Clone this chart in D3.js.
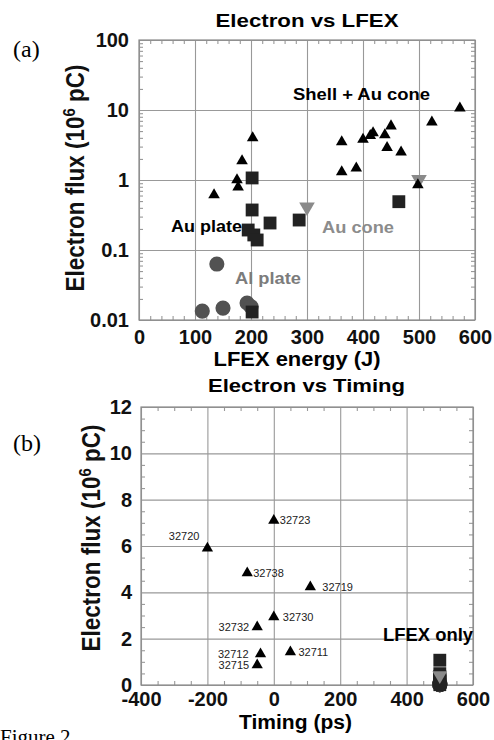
<!DOCTYPE html>
<html><head><meta charset="utf-8">
<script src="https://cdn.jsdelivr.net/npm/d3@7"></script>
<style>body{margin:0;background:#fff}svg{display:block}</style>
</head><body>
<script>
// ---------- Panel (a): Electron vs LFEX ----------
const shellEnergy = [134,184,175,177,203,362,400,418,413,439,450,443,468,523,573,362,388,498];
const shellFlux   = [0.61,1.87,1.0,0.79,3.98,3.5,3.8,4.7,4.3,4.4,5.9,2.9,2.5,6.7,10.6,1.3,1.48,0.85];
const auPlateEnergy = [202,202,234,286,195,205,211,464,202];
const auPlateFlux   = [1.07,0.373,0.243,0.268,0.193,0.164,0.139,0.49,0.013];
const auConeEnergy = [300,500];
const auConeFlux   = [0.41,1.02];
const alPlateEnergy = [139,113,150,193,200];
const alPlateFlux   = [0.063,0.0134,0.0148,0.0175,0.0155];
const aXTicks = [0,100,200,300,400,500,600];
const aXTickLabels = ["0","100","200","300","400","500","600"];
const aYTicks = [0.01,0.1,1,10,100];
const aYTickLabels = ["0.01","0.1","1","10","100"];

// ---------- Panel (b): Electron vs Timing ----------
const shotTiming = [-200,0,-80,110,0,-50,-40,-50,50];
const shotFlux   = [5.9,7.1,4.83,4.23,2.93,2.5,1.34,0.86,1.42];
const shotIds    = ["32720","32723","32738","32719","32730","32732","32712","32715","32711"];
const lfexOnlyTiming = 500;
const lfexOnlySquareFlux = [1.07,0.373,0.243,0.268,0.193,0.164,0.139,0.49,0.013];
const lfexOnlyConeFlux = [0.41];
const lfexOnlyCircleFlux = [0.063,0.0134,0.0148,0.0175,0.0155];
const bXTicks = [-400,-200,0,200,400,600];
const bXTickLabels = ["-400","-200","0","200","400","600"];
const bYTicks = [0,2,4,6,8,10,12];
const bYTickLabels = ["0","2","4","6","8","10","12"];

// label placement (layout only)
const shotLabelLayout = [
  {dx:-8,dy:-12,anchor:"end"},{dx:6,dy:0,anchor:"start"},{dx:6,dy:0,anchor:"start"},
  {dx:12,dy:0,anchor:"start"},{dx:9,dy:0,anchor:"start"},{dx:-8,dy:0,anchor:"end"},
  {dx:-12,dy:0,anchor:"end"},{dx:-8,dy:0,anchor:"end"},{dx:8,dy:0,anchor:"start"}];

const FONT = "'Liberation Sans', Arial, Helvetica, sans-serif";
const SERIF = "'Liberation Serif', 'Times New Roman', serif";
const GRID = "#999";

const svg = d3.select("body").append("svg").attr("width",494).attr("height",740);

function addText(str, x, y, o={}) {
  const t = svg.append("text").attr("x",x).attr("y",y)
    .attr("font-family", o.family||FONT).attr("font-size", o.size||18)
    .attr("font-weight", o.weight||"bold").attr("fill", o.fill||"#000")
    .attr("text-anchor", o.anchor||"start").text(str);
  if (o.len) t.attr("textLength", o.len).attr("lengthAdjust","spacingAndGlyphs");
  return t;
}

function styleAxis(g, keepText) {
  g.select(".domain").remove();
  g.selectAll("line").attr("stroke", GRID).attr("stroke-width", 1.1);
  if (!keepText) g.selectAll("text").remove();
  else g.selectAll("text").attr("font-family", FONT).attr("font-size", 20)
        .attr("font-weight","bold").attr("fill","#111");
}

function frame(x, y, minorX, minorY) {
  const [x0,x1] = x.range(), [y0,y1] = y.range();
  const w = x1-x0, h = y0-y1;
  svg.append("g").attr("transform",`translate(0,${y0})`)
    .call(d3.axisBottom(x).tickValues(minorX).tickSize(-4).tickFormat("")).call(g=>styleAxis(g,false));
  svg.append("g").attr("transform",`translate(0,${y1})`)
    .call(d3.axisTop(x).tickValues(minorX).tickSize(-4).tickFormat("")).call(g=>styleAxis(g,false));
  svg.append("g").attr("transform",`translate(${x0},0)`)
    .call(d3.axisLeft(y).tickValues(minorY).tickSize(-4).tickFormat("")).call(g=>styleAxis(g,false));
  svg.append("g").attr("transform",`translate(${x1},0)`)
    .call(d3.axisRight(y).tickValues(minorY).tickSize(-4).tickFormat("")).call(g=>styleAxis(g,false));
  svg.append("rect").attr("x",x0).attr("y",y1).attr("width",w).attr("height",h)
    .attr("fill","none").attr("stroke","#8a8a8a").attr("stroke-width",1.2);
}

const sym = (type, size) => d3.symbol().type(type).size(size)();

// ================= Panel (a) =================
const xA = d3.scaleLinear().domain([0,600]).range([139,475]);
const yA = d3.scaleLog().domain([0.01,100]).range([320,40]);

svg.append("g").attr("transform","translate(0,320)")
  .call(d3.axisBottom(xA).tickValues(aXTicks).tickFormat((d,i)=>aXTickLabels[i]).tickSize(-280))
  .call(g=>{styleAxis(g,true); g.selectAll("text").attr("y",17).attr("dy","0.36em");});
svg.append("g").attr("transform","translate(139,0)")
  .call(d3.axisLeft(yA).tickValues(aYTicks).tickFormat((d,i)=>aYTickLabels[i]).tickSize(-336).tickPadding(10))
  .call(g=>styleAxis(g,true));

const aMinorX = d3.range(0,601,20).filter(v=>v%100!==0);
const aMinorY = [];
[0.01,0.1,1,10].forEach(d=>{for(let k=2;k<=9;k++) aMinorY.push(d*k);});
frame(xA, yA, aMinorX, aMinorY);

svg.append("g").selectAll("path").data(alPlateEnergy).join("path")
  .attr("d", sym(d3.symbolCircle, 180)).attr("fill","#525252")
  .attr("transform",(d,i)=>`translate(${xA(d)},${yA(alPlateFlux[i])})`);
svg.append("g").selectAll("path").data(auPlateEnergy).join("path")
  .attr("d", sym(d3.symbolSquare, 165)).attr("fill","#222")
  .attr("transform",(d,i)=>`translate(${xA(d)},${yA(auPlateFlux[i])})`);
svg.append("g").selectAll("path").data(auConeEnergy).join("path")
  .attr("d", sym(d3.symbolTriangle, 105)).attr("fill","#8a8a8a")
  .attr("transform",(d,i)=>`translate(${xA(d)},${yA(auConeFlux[i])}) rotate(180)`);
svg.append("g").selectAll("path").data(shellEnergy).join("path")
  .attr("d", sym(d3.symbolTriangle, 58)).attr("fill","#000")
  .attr("transform",(d,i)=>`translate(${xA(d)},${yA(shellFlux[i])})`);

addText("Electron vs LFEX", 307, 27, {size:19, anchor:"middle", len:183});
addText("LFEX energy (J)", 297, 366, {size:20, anchor:"middle", len:167});
addText("Shell + Au cone", 293, 100, {size:17, len:137});
addText("Au plate", 171, 232, {size:17, len:71});
addText("Au cone", 322, 233, {size:17, len:72, fill:"#8c8c8c"});
addText("Al plate", 235, 284, {size:17, len:66, fill:"#7c7c7c"});
addText("(a)", 13, 57, {family:SERIF, weight:"normal", size:24});

function yLabel(cx, cy) {
  const t = svg.append("text").attr("transform",`translate(${cx},${cy}) scale(1.15,1) rotate(-90)`)
    .attr("text-anchor","middle").attr("font-family",FONT).attr("font-size",22.5)
    .attr("font-weight","bold").attr("fill","#111");
  t.append("tspan").text("Electron flux (10");
  t.append("tspan").attr("font-size",15).attr("dy",-8).text("6");
  t.append("tspan").attr("dy",8).text(" pC)");
}
yLabel(84, 178);

// ================= Panel (b) =================
const xB = d3.scaleLinear().domain([-400,600]).range([141,473]);
const yB = d3.scaleLinear().domain([0,12]).range([685,407]);

svg.append("g").attr("transform","translate(0,685)")
  .call(d3.axisBottom(xB).tickValues(bXTicks).tickFormat((d,i)=>bXTickLabels[i]).tickSize(-278))
  .call(g=>{styleAxis(g,true); g.selectAll("text").attr("y",14).attr("dy","0.36em");});
svg.append("g").attr("transform","translate(141,0)")
  .call(d3.axisLeft(yB).tickValues(bYTicks).tickFormat((d,i)=>bYTickLabels[i]).tickSize(-332).tickPadding(9))
  .call(g=>styleAxis(g,true));

const bMinorX = d3.range(-400,601,50).filter(v=>v%200!==0);
const bMinorY = d3.range(0,12.01,0.5).filter(v=>v%2!==0);
frame(xB, yB, bMinorX, bMinorY);

svg.append("g").selectAll("path").data(lfexOnlyCircleFlux).join("path")
  .attr("d", sym(d3.symbolCircle, 180)).attr("fill","#333")
  .attr("transform",d=>`translate(${xB(lfexOnlyTiming)},${yB(d)})`);
svg.append("g").selectAll("path").data(lfexOnlySquareFlux).join("path")
  .attr("d", sym(d3.symbolSquare, 165)).attr("fill","#222")
  .attr("transform",d=>`translate(${xB(lfexOnlyTiming)},${yB(d)})`);
svg.append("g").selectAll("path").data(lfexOnlyConeFlux).join("path")
  .attr("d", sym(d3.symbolTriangle, 95)).attr("fill","#8a8a8a")
  .attr("transform",d=>`translate(${xB(lfexOnlyTiming)},${yB(d)}) rotate(180)`);

svg.append("g").selectAll("path").data(shotTiming).join("path")
  .attr("d", sym(d3.symbolTriangle, 55)).attr("fill","#000")
  .attr("transform",(d,i)=>`translate(${xB(d)},${yB(shotFlux[i])})`);
svg.append("g").selectAll("text").data(shotIds).join("text")
  .attr("x",(d,i)=>xB(shotTiming[i])+shotLabelLayout[i].dx)
  .attr("y",(d,i)=>yB(shotFlux[i])+shotLabelLayout[i].dy)
  .attr("dy","0.36em").attr("text-anchor",(d,i)=>shotLabelLayout[i].anchor)
  .attr("font-family",FONT).attr("font-size",11).attr("fill","#222").text(d=>d);

addText("Electron vs Timing", 306.5, 392, {size:19, anchor:"middle", len:197});
addText("Timing (ps)", 295.5, 729, {size:20, anchor:"middle", len:113});
addText("LFEX only", 383, 641, {size:18, len:90});
addText("(b)", 13, 451, {family:SERIF, weight:"normal", size:24});
yLabel(100, 538);

addText("Figure 2", 0, 744, {family:SERIF, weight:"normal", size:21});
</script>
</body></html>
